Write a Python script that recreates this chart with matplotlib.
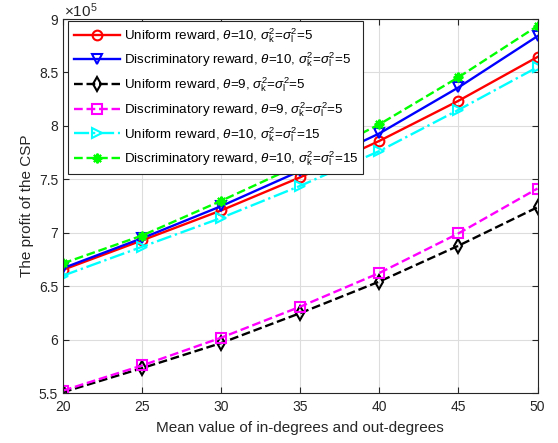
import numpy as np
import matplotlib
matplotlib.use("Agg")
import matplotlib.pyplot as plt
from matplotlib.ticker import FuncFormatter

plt.rcParams['font.family'] = ['Liberation Sans', 'DejaVu Sans']
plt.rcParams['mathtext.fontset'] = 'custom'
plt.rcParams['mathtext.rm'] = 'Liberation Sans'
plt.rcParams['mathtext.it'] = 'Liberation Sans:italic'

# data (profit)
degrees = [20, 25, 30, 35, 40, 45, 50]
uni_10_5 = [6.655e5, 6.93e5, 7.21e5, 7.52e5, 7.86e5, 8.235e5, 8.645e5]
dis_10_5 = [6.67e5, 6.95e5, 7.25e5, 7.58e5, 7.93e5, 8.36e5, 8.84e5]
uni_9_5 = [5.51e5, 5.735e5, 5.97e5, 6.25e5, 6.545e5, 6.88e5, 7.24e5]
dis_9_5 = [5.525e5, 5.76e5, 6.02e5, 6.31e5, 6.625e5, 6.995e5, 7.415e5]
uni_10_15 = [6.60e5, 6.87e5, 7.14e5, 7.44e5, 7.765e5, 8.15e5, 8.55e5]
dis_10_15 = [6.715e5, 6.975e5, 7.30e5, 7.64e5, 8.015e5, 8.455e5, 8.935e5]

labels = [
    r'Uniform reward, $\theta$=10, $\sigma_{\mathrm{k}}^2$=$\sigma_{\mathrm{l}}^2$=5',
    r'Discriminatory reward, $\theta$=10, $\sigma_{\mathrm{k}}^2$=$\sigma_{\mathrm{l}}^2$=5',
    r'Uniform reward, $\theta$=9, $\sigma_{\mathrm{k}}^2$=$\sigma_{\mathrm{l}}^2$=5',
    r'Discriminatory reward, $\theta$=9, $\sigma_{\mathrm{k}}^2$=$\sigma_{\mathrm{l}}^2$=5',
    r'Uniform reward, $\theta$=10, $\sigma_{\mathrm{k}}^2$=$\sigma_{\mathrm{l}}^2$=15',
    r'Discriminatory reward, $\theta$=10, $\sigma_{\mathrm{k}}^2$=$\sigma_{\mathrm{l}}^2$=15',
]

fig = plt.figure(figsize=(5.58, 4.43), dpi=100)
ax = fig.add_axes([0.1129, 0.1122, 0.8504, 0.8449])

kw = dict(lw=1.7, ms=7, mfc='none', mew=1.5)
ax.plot(degrees, uni_10_5, '-', color='red', marker='o', label=labels[0], **kw)
ax.plot(degrees, dis_10_5, '-', color='blue', marker='v', label=labels[1], **kw)
ax.plot(degrees, uni_9_5, '--', color='black', marker='d', label=labels[2], **kw)
ax.plot(degrees, dis_9_5, '--', color='magenta', marker='s', label=labels[3], **kw)
ax.plot(degrees, uni_10_15, '-.', color='cyan', marker='>', label=labels[4], **kw)
ax.plot(degrees, dis_10_15, '--', color='lime', marker=(8, 2, 0), label=labels[5], **kw)

ax.set_xlim(20, 50)
ax.set_ylim(5.5e5, 9e5)
ax.set_xticks(degrees)
ax.set_yticks(np.arange(5.5e5, 9.01e5, 0.5e5))
ax.yaxis.set_major_formatter(FuncFormatter(lambda v, p: '%g' % (v / 1e5)))
ax.grid(True, color='#dddddd', lw=0.8)
ax.set_axisbelow(True)
ax.tick_params(direction='in', top=True, right=True, labelsize=10,
               colors='#262626', length=4)
ax.tick_params(axis='x', pad=5)
for s in ax.spines.values():
    s.set_color('#262626')
    s.set_linewidth(0.8)

ax.set_xlabel('Mean value of in-degrees and out-degrees', fontsize=11, color='#262626', labelpad=5)
ax.set_ylabel('The profit of the CSP', fontsize=11, color='#262626', labelpad=3.5)
fig.text(0.1147, 0.9616, r'$\times$10$^5$', fontsize=11, color='#262626', va='baseline')

leg = ax.legend(loc='upper left', bbox_to_anchor=(5.3 / 474.5, 1 - 1.7 / 374.3),
                borderaxespad=0, fontsize=9.6, handlelength=3.45,
                fancybox=False, framealpha=1, edgecolor='#262626', labelspacing=0.45,
                handletextpad=0.3, borderpad=0.4)
leg.get_frame().set_linewidth(0.8)

fig.savefig('out.png', dpi=100)
